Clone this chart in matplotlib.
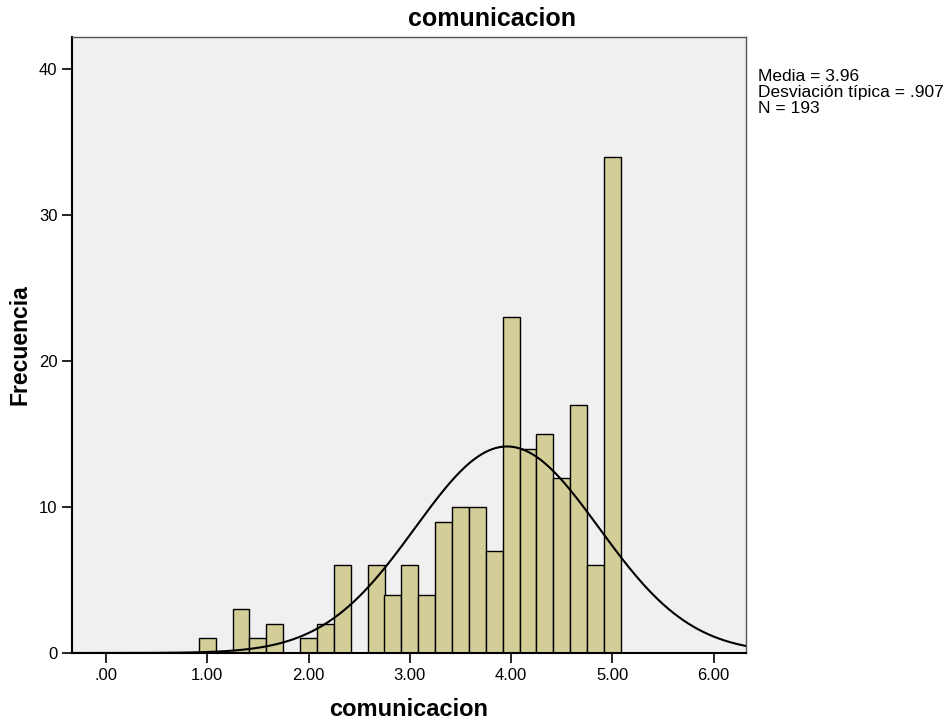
import numpy as np
import matplotlib
matplotlib.use("Agg")
import matplotlib.pyplot as plt

plt.rcParams['font.family'] = ['Liberation Sans', 'DejaVu Sans']

# bin centres (width 1/6) and frequencies
bin_centers = [1.0, 1.333, 1.5, 1.667, 2.0, 2.167, 2.333, 2.667, 2.833, 3.0, 3.167,
               3.333, 3.5, 3.667, 3.833, 4.0, 4.167, 4.333, 4.5, 4.667, 4.833, 5.0]
counts = [1, 3, 1, 2, 1, 2, 6, 6, 4, 6, 4, 9, 10, 10, 7, 23, 14, 15, 12, 17, 6, 34]
bin_width = 1 / 6

media = 3.96
desv = 0.907
n_total = 193

xticks = [0, 1, 2, 3, 4, 5, 6]
xtick_labels = ['.00', '1.00', '2.00', '3.00', '4.00', '5.00', '6.00']
yticks = [0, 10, 20, 30, 40]

fig = plt.figure(figsize=(9.5, 7.25), dpi=100)
ax = fig.add_axes([0.0758, 0.0993, 0.7095, 0.8497])
ax.set_facecolor('#F0F0F0')

ax.bar(bin_centers, counts, width=bin_width, color='#D3CE97', edgecolor='black',
       linewidth=1.0, zorder=2)

# normal curve scaled to counts
xs = np.linspace(-0.34, 6.32, 400)
ys = n_total * bin_width / (desv * np.sqrt(2 * np.pi)) * np.exp(-0.5 * ((xs - media) / desv) ** 2)
ax.plot(xs, ys, color='black', linewidth=1.5, zorder=3)

ax.set_xlim(-0.336, 6.32)
ax.set_ylim(0, 42.2)
ax.set_xticks(xticks)
ax.set_xticklabels(xtick_labels)
ax.set_yticks(yticks)
ax.tick_params(direction='out', length=7, width=1.2, labelsize=12, colors='black')
for s in ax.spines.values():
    s.set_linewidth(1.0)
ax.spines['left'].set_linewidth(1.5)
ax.spines['bottom'].set_linewidth(1.5)
ax.spines['top'].set_color('#555555')
ax.spines['right'].set_color('#555555')

fig.text(492 / 950, 1 - 19 / 725, 'comunicacion', fontsize=18, fontweight='bold',
         ha='center', va='center')
ax.set_xlabel('comunicacion', fontsize=17, fontweight='bold', labelpad=11)
ax.set_ylabel('Frecuencia', fontsize=16.5, fontweight='bold', labelpad=5)

fig.text(0.798, 0.905, 'Media = 3.96\nDesviación típica = .907\nN = 193',
         fontsize=12.5, va='top', ha='left', linespacing=1.1)

fig.savefig('out.png', dpi=100)
